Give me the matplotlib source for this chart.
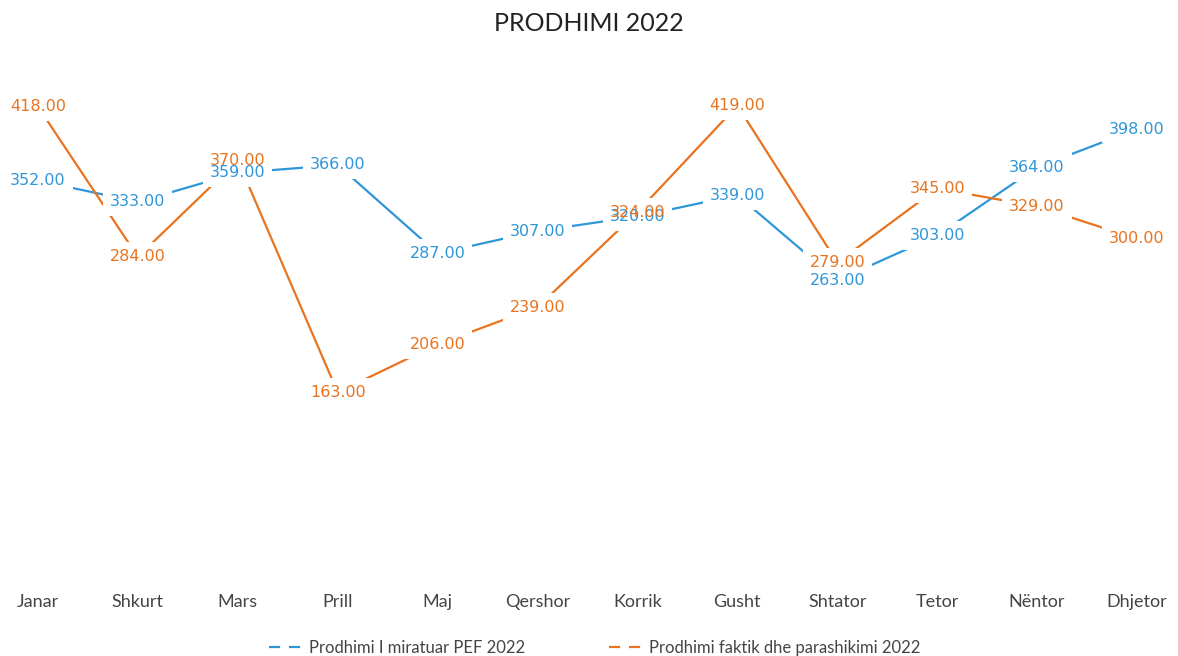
import matplotlib.pyplot as plt
from matplotlib.lines import Line2D
import numpy as np

months = ['Janar', 'Shkurt', 'Mars', 'Prill', 'Maj', 'Qershor', 'Korrik',
          'Gusht', 'Shtator', 'Tetor', 'Nëntor', 'Dhjetor']
miratuar = [352, 333, 359, 366, 287, 307, 320, 339, 263, 303, 364, 398]
faktik = [418, 284, 370, 163, 206, 239, 324, 419, 279, 345, 329, 300]

blue = '#2f96d8'
orange = '#e9731f'

fig = plt.figure(figsize=(11.78, 6.56), dpi=100)
ax = fig.add_axes([0, 0.1235, 1, 0.7685])
x = np.arange(len(months))

ax.plot(x, miratuar, color=blue, lw=1.6, zorder=2)
ax.plot(x, faktik, color=orange, lw=1.6, zorder=2)

# white boxes under the labels cut the lines, text drawn on top
for vals, col in ((miratuar, blue), (faktik, orange)):
    for i, v in enumerate(vals):
        ax.text(i, v, '%.2f' % v, ha='center', va='center', fontsize=11.5,
                color='none', family='DejaVu Sans', zorder=3,
                bbox=dict(facecolor='white', edgecolor='none', pad=5))
for vals, col in ((miratuar, blue), (faktik, orange)):
    for i, v in enumerate(vals):
        ax.text(i, v, '%.2f' % v, ha='center', va='center', fontsize=11.5,
                color=col, family='DejaVu Sans', zorder=4)

ax.set_xlim(-0.38, 11.41)
ax.set_ylim(0, 450)
ax.set_xticks(x)
ax.set_xticklabels(months, fontsize=13, family='Lato', color='#444444')
ax.tick_params(axis='x', length=0, pad=14)
ax.set_yticks([])
for s in ax.spines.values():
    s.set_visible(False)

fig.text(0.5, 0.964, 'PRODHIMI 2022', ha='center', va='center',
         fontsize=18, family='Lato', color='#222222')

handles = [Line2D([], [], color=blue, lw=1.6, dashes=(5, 4)),
           Line2D([], [], color=orange, lw=1.6, dashes=(5, 4))]
fig.legend(handles, ['Prodhimi I miratuar PEF 2022',
                     'Prodhimi faktik dhe parashikimi 2022'],
           loc='center', bbox_to_anchor=(0.505, 0.012), ncol=2, frameon=False,
           prop={'family': 'Lato', 'size': 12}, labelcolor='#444444',
           handlelength=2.2, handletextpad=0.2, columnspacing=5)

plt.savefig('out.png', dpi=100)
